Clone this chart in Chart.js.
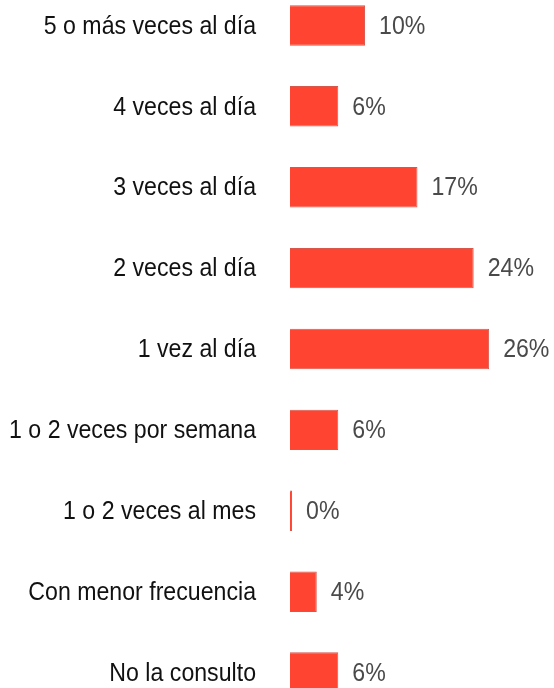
<!DOCTYPE html>
<html>
<head>
<meta charset="utf-8">
<script src="https://cdn.jsdelivr.net/npm/chart.js@4/dist/chart.umd.min.js"></script>
<style>
    html, body { margin: 0; padding: 0; background: #fff; overflow: hidden; }
    #myChart { position: absolute; left: 0; top: -15px; }
</style>
</head>
<body>
<canvas id="myChart" width="554" height="728"></canvas>
<script>
const categorias = [
    '5 o más veces al día',
    '4 veces al día',
    '3 veces al día',
    '2 veces al día',
    '1 vez al día',
    '1 o 2 veces por semana',
    '1 o 2 veces al mes',
    'Con menor frecuencia',
    'No la consulto'
];
const porcentajes = [9.95, 6.4, 16.9, 24.35, 26.4, 6.4, 0.27, 3.55, 6.4];

const fuente = "'Liberation Sans', Arial, sans-serif";
const compresion = 0.89; // el texto del original es algo estrecho

// texto estrecho: se dibuja con escala horizontal
function textoEstrecho(ctx, texto, x, y) {
    ctx.save();
    ctx.translate(x, y);
    ctx.scale(compresion, 1);
    ctx.fillText(texto, 0, 0);
    ctx.restore();
}

const etiquetas = {
    id: 'etiquetas',
    afterDatasetsDraw(chart) {
        const ctx = chart.ctx;
        const meta = chart.getDatasetMeta(0);
        const escalaY = chart.scales.y;
        ctx.save();
        ctx.font = '26px ' + fuente;
        ctx.textBaseline = 'middle';

        // categorías a la izquierda
        ctx.fillStyle = '#111111';
        ctx.textAlign = 'right';
        categorias.forEach(function(cat, i) {
            textoEstrecho(ctx, cat, escalaY.right - 34, escalaY.getPixelForTick(i) + 1);
        });

        // valores al final de cada barra
        ctx.fillStyle = '#4a4a4a';
        ctx.textAlign = 'left';
        meta.data.forEach(function(bar, i) {
            textoEstrecho(ctx, Math.round(porcentajes[i]) + '%', bar.x + 14, bar.y + 1);
        });
        ctx.restore();
    }
};

const ctx = document.getElementById('myChart').getContext('2d');
const myChart = new Chart(ctx, {
    type: 'bar',
    data: {
        labels: categorias,
        datasets: [{
            data: porcentajes,
            backgroundColor: '#ff4431',
            borderColor: '#d9564b',
            borderWidth: 1,
            barPercentage: 0.5,
            categoryPercentage: 1
        }]
    },
    options: {
        indexAxis: 'y',
        responsive: false,
        animation: false,
        layout: { padding: 0 },
        plugins: {
            legend: { display: false },
            tooltip: { enabled: false }
        },
        scales: {
            x: {
                display: false,
                min: 0,
                max: 35
            },
            y: {
                grid: { display: false, drawTicks: false },
                border: { display: false },
                ticks: { display: false },
                afterFit: function(scale) {
                    scale.width = 290;
                }
            }
        }
    },
    plugins: [etiquetas]
});
</script>
</body>
</html>
